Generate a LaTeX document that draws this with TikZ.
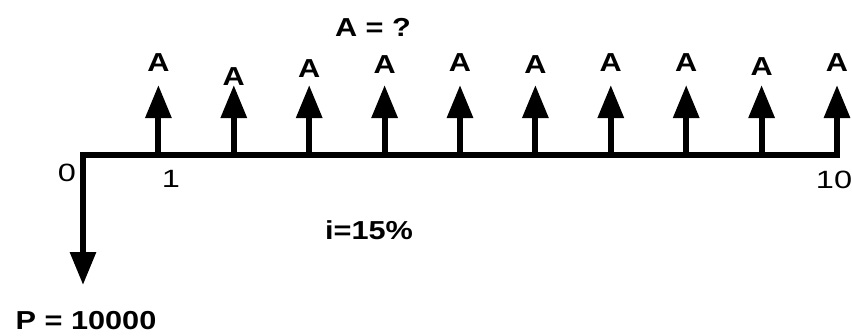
\documentclass[tikz,border=0pt]{standalone}
\usepackage{fontspec}
\setmainfont{Liberation Sans}
\usetikzlibrary{arrows.meta}
\begin{document}
\begin{tikzpicture}[x=1pt,y=-1pt,
    flow/.style={line width=6pt,-{Triangle[length=33pt,width=25pt]}},
    axis/.style={line width=5.5pt,line cap=rect},
    lbl/.style={font=\bfseries\fontsize{26}{26}\selectfont,xscale=1.18,inner sep=0pt},
    num/.style={font=\fontsize{25}{25}\selectfont,xscale=1.3,inner sep=0pt}]
    \def\dx{75.4}
    \useasboundingbox (0,0) rectangle (852,335);

    % 時間軸
    \coordinate (t0) at (83,155);
    \foreach \i in {1,...,10} \coordinate (t\i) at (83+\i*\dx,155);
    \draw[axis] (t0) -- (t10);

    % 受取額 A
    \foreach \i/\y in {1/63,2/77,3/68.5,4/65,5/63,6/65,7/63,8/63,9/67,10/63} {
        \coordinate (a\i) at (83+\i*\dx,85);
        \draw[flow] (t\i) -- (a\i);
        \node[lbl] (lab\i) at (83+\i*\dx,\y) {A};
    }

    % 現在価値 P
    \coordinate (p) at (83,285);
    \draw[flow] (t0) -- (p);
    \node[lbl] (pval) at (86,321) {P = 10000};

    % 目盛
    \node[num] (n0) at (67,172.5) {0};
    \node[num] (n1) at (171,179) {1};
    \node[num] (n10) at (834,180) {10};

    % 未知数と利率
    \node[lbl] (aval) at (373,27) {A = ?};
    \node[lbl] (rate) at (369,230) {i=15\%};
\end{tikzpicture}
\end{document}
